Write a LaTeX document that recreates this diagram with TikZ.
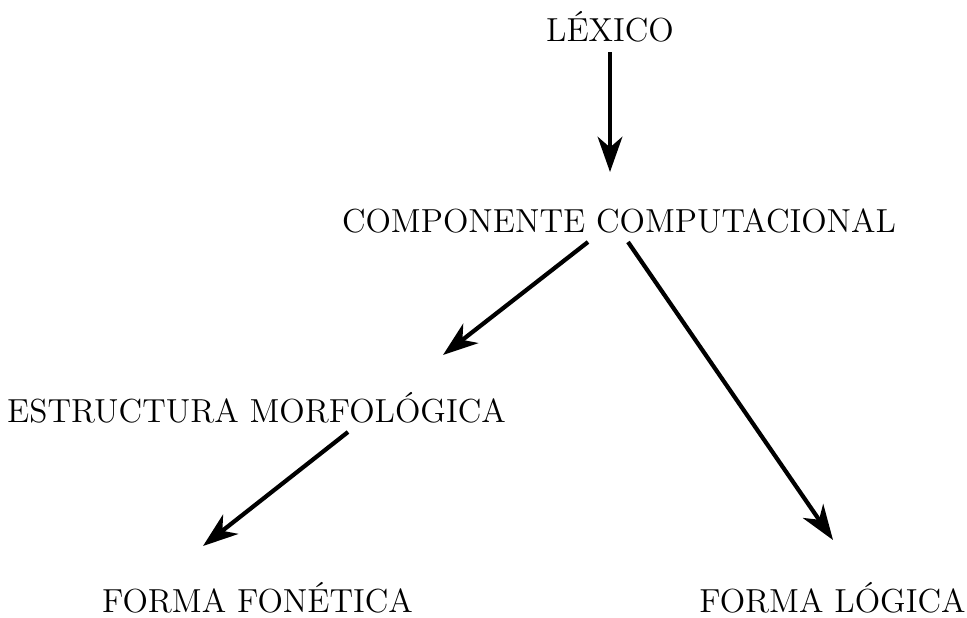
\documentclass[tikz,border=0pt]{standalone}
\usepackage{tikz}
\usetikzlibrary{arrows.meta}
\tikzset{
	etiqueta/.style={anchor=base,inner sep=0pt,font=\fontsize{12}{14}\selectfont,scale=0.79},
	flecha/.style={line width=1.2pt,-{Stealth[length=10pt,width=7pt,inset=3pt]}}
}
\begin{document}
\begin{tikzpicture}
				\useasboundingbox (0,0) rectangle (9.67,6.17);
				
				%Etiquetas
				\node[etiqueta] (lex) at (6.10,5.75) {LÉXICO};
				\node[etiqueta] (comp) at (6.19,3.85) {COMPONENTE COMPUTACIONAL};
				\node[etiqueta] (morf) at (2.565,1.95) {ESTRUCTURA MORFOLÓGICA};
				\node[etiqueta] (fon) at (2.575,0.05) {FORMA FONÉTICA};
				\node[etiqueta] (log) at (8.325,0.05) {FORMA LÓGICA};
				
				%Extremos de las flechas
				\coordinate (A) at (6.10,5.65);
				\coordinate (B) at (6.10,4.45);
				\coordinate (C) at (5.88,3.75);
				\coordinate (D) at (4.43,2.62);
				\coordinate (E) at (6.28,3.75);
				\coordinate (F) at (8.33,0.77);
				\coordinate (G) at (3.48,1.85);
				\coordinate (H) at (2.03,0.71);
				
				%Flechas
				\draw[flecha] (A) -- (B);
				\draw[flecha] (C) -- (D);
				\draw[flecha] (E) -- (F);
				\draw[flecha] (G) -- (H);
\end{tikzpicture}
\end{document}
